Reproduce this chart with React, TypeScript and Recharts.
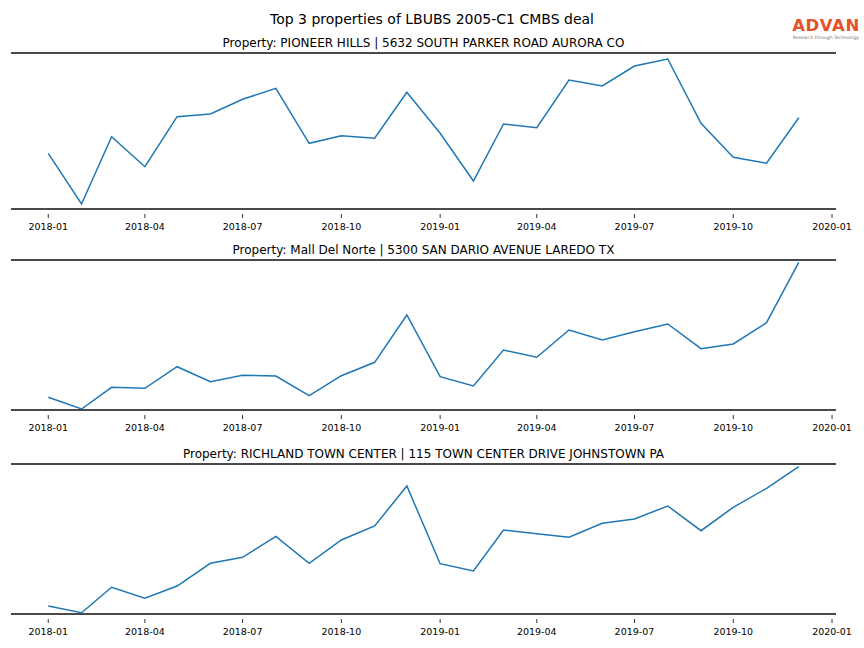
import React from 'react';
import { LineChart, Line, XAxis, YAxis, ReferenceLine } from 'recharts';

const months = [
  '2018-01', '2018-02', '2018-03', '2018-04', '2018-05', '2018-06',
  '2018-07', '2018-08', '2018-09', '2018-10', '2018-11', '2018-12',
  '2019-01', '2019-02', '2019-03', '2019-04', '2019-05', '2019-06',
  '2019-07', '2019-08', '2019-09', '2019-10', '2019-11', '2019-12',
];

const pioneerHills = [
  55.7, 5, 72.3, 42.3, 92.3, 95, 109.7, 120.7, 65.7, 73.3, 70.7, 116.7,
  75.7, 28, 85, 81.3, 129, 123, 143, 150, 85.7, 51.7, 45.7, 91.3,
];

const mallDelNorte = [
  12.7, 1, 22.7, 21.7, 43.3, 28.3, 34.7, 34, 14.3, 34.3, 47.7, 95,
  33.3, 24, 60, 52.7, 80, 70, 78.3, 86, 61.3, 66, 87.3, 147.7,
];

const richland = [
  8, 1.3, 26.7, 15.7, 28, 50.7, 56.7, 77.7, 50.7, 74, 88, 128,
  50.3, 43, 84, 80.3, 76.7, 90.7, 95, 108, 83.3, 106.7, 125.7, 147.3,
];

const tickLabels = [
  '2018-01', '2018-04', '2018-07', '2018-10',
  '2019-01', '2019-04', '2019-07', '2019-10', '2020-01',
];

const FONT = '"DejaVu Sans", sans-serif';
const SPINE = '#4a4a4a';

// days since 2018-01-01, so the x axis is spaced like real dates
const toDay = (ym: string) => {
  const [y, m] = ym.split('-').map(Number);
  return (Date.UTC(y, m - 1, 1) - Date.UTC(2018, 0, 1)) / 86400000;
};

const tickDays = tickLabels.map(toDay);
const labelByDay: Record<number, string> = {};
tickLabels.forEach((t, i) => (labelByDay[tickDays[i]] = t));

const DateTick = (props: any) => {
  const { x, y, payload } = props;
  return (
    <g>
      <line x1={x} x2={x} y1={y + 5} y2={y + 9} stroke="#333" strokeWidth={1} />
      <text x={x} y={y + 17} textAnchor="middle" dominantBaseline="central" fontSize={9.5} fill="#000" fontFamily={FONT}>
        {labelByDay[payload.value]}
      </text>
    </g>
  );
};

type PanelProps = { title: string; values: number[]; top: number; bottom: number };

const Panel = ({ title, values, top, bottom }: PanelProps) => {
  const plotH = bottom - top;
  const data = months.map((m, i) => ({ x: toDay(m), v: values[i] }));
  return (
    <>
      <div
        style={{
          position: 'absolute', left: 11, width: 825, top: top - 17, height: 14,
          textAlign: 'center', fontFamily: FONT, fontSize: 12, lineHeight: '14px', color: '#000',
        }}
      >
        {title}
      </div>
      <div style={{ position: 'absolute', left: 0, top: top - 5 }}>
        <LineChart width={864} height={plotH + 5 + 30} data={data} margin={{ top: 5, right: 28, left: 11, bottom: 0 }}>
          <XAxis
            dataKey="x"
            type="number"
            domain={[-34.7, 733.7]}
            ticks={tickDays}
            interval={0}
            height={30}
            tickSize={0}
            tickMargin={0}
            tickLine={false}
            axisLine={{ stroke: SPINE, strokeWidth: 2 }}
            tick={<DateTick />}
          />
          <YAxis hide domain={[0, plotH]} />
          <ReferenceLine y={plotH} stroke={SPINE} strokeWidth={2} />
          <Line type="linear" dataKey="v" stroke="#1f77b4" strokeWidth={1.5} dot={false} isAnimationActive={false} />
        </LineChart>
      </div>
    </>
  );
};

const App = () => {
  return (
    <div style={{ position: 'absolute', left: 0, top: 0, width: 864, height: 648, background: '#fff' }}>
      <div
        style={{
          position: 'absolute', left: 0, width: 864, top: 11, height: 16,
          textAlign: 'center', fontFamily: FONT, fontSize: 14, lineHeight: '16px', color: '#000',
        }}
      >
        Top 3 properties of LBUBS 2005-C1 CMBS deal
      </div>
      <div style={{ position: 'absolute', left: 790, top: 17, width: 72, textAlign: 'center', fontFamily: FONT }}>
        <div style={{ color: '#e4522a', fontSize: 16.5, fontWeight: 'bold', lineHeight: '18px', letterSpacing: 0.6 }}>ADVAN</div>
        <div style={{ color: '#777', fontSize: 4.5, lineHeight: '5px', whiteSpace: 'nowrap' }}>Research through Technology</div>
      </div>
      <Panel title="Property: PIONEER HILLS | 5632 SOUTH PARKER ROAD AURORA CO" values={pioneerHills} top={53} bottom={209} />
      <Panel title="Property: Mall Del Norte | 5300 SAN DARIO AVENUE LAREDO TX" values={mallDelNorte} top={260} bottom={410} />
      <Panel title="Property: RICHLAND TOWN CENTER | 115 TOWN CENTER DRIVE JOHNSTOWN PA" values={richland} top={464} bottom={614} />
    </div>
  );
};

export default App;
